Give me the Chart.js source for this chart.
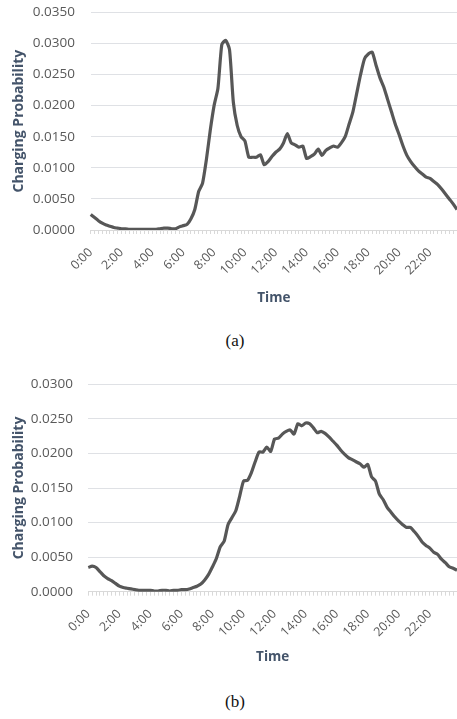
<!DOCTYPE html>
<html>
<head>
<meta charset="utf-8">
<script src="https://cdn.jsdelivr.net/npm/chart.js@4.4.0/dist/chart.umd.min.js"></script>
<style>
  html, body { margin: 0; padding: 0; background: #ffffff; }
  body { width: 457px; height: 719px; position: relative; overflow: hidden; }
  .wrap { position: absolute; left: 0; width: 457px; }
  .cap { position: absolute; left: 0; width: 470px; text-align: center; font-family: "Liberation Serif", "DejaVu Serif", serif; font-size: 17px; color: #111; }
</style>
</head>
<body>
<div class="wrap" style="top:0px;height:310px"><canvas id="c1" width="457" height="310"></canvas></div>
<div class="cap" style="top:331px">(a)</div>
<div class="wrap" style="top:360px;height:310px"><canvas id="c2" width="457" height="310"></canvas></div>
<div class="cap" style="top:692px">(b)</div>
<script>
// 96 quarter-hour time slots
const timeLabels = [];
for (let h = 0; h < 24; h++) {
  for (const m of ['00', '15', '30', '45']) timeLabels.push(h + ':' + m);
}
const shownTickLabels = ['0:00','2:00','4:00','6:00','8:00','10:00','12:00','14:00','16:00','18:00','20:00','22:00'];

const probA = [
  0.0025,0.0020,0.0015,0.0011,0.0008,0.0006,0.0004,0.0003,
  0.0002,0.0002,0.0001,0.0001,0.0001,0.0001,0.0001,0.0001,
  0.0001,0.0001,0.0002,0.0003,0.0003,0.0002,0.0002,0.0005,
  0.0007,0.0009,0.0018,0.0033,0.0062,0.0075,0.0113,0.0160,
  0.0200,0.0228,0.0298,0.0305,0.0290,0.0205,0.0168,0.0150,
  0.0143,0.0117,0.0117,0.0117,0.0121,0.0105,0.0110,0.0118,
  0.0125,0.0130,0.0140,0.0155,0.0140,0.0137,0.0133,0.0135,
  0.0115,0.0118,0.0122,0.0130,0.0120,0.0128,0.0132,0.0135,
  0.0133,0.0140,0.0150,0.0170,0.0190,0.0220,0.0250,0.0275,
  0.0283,0.0286,0.0265,0.0245,0.0230,0.0210,0.0190,0.0170,
  0.0153,0.0135,0.0120,0.0110,0.0102,0.0095,0.0090,0.0085,
  0.0083,0.0078,0.0073,0.0066,0.0058,0.0050,0.0042,0.0033
];

const probB = [
  0.0035,0.0037,0.0035,0.0029,0.0023,0.0019,0.0016,0.0012,
  0.0008,0.0006,0.0005,0.0004,0.0003,0.0002,0.0002,0.0002,
  0.0002,0.0001,0.0001,0.0002,0.0002,0.0001,0.0002,0.0002,
  0.0003,0.0003,0.0004,0.0006,0.0008,0.0011,0.0017,0.0025,
  0.0036,0.0048,0.0065,0.0073,0.0097,0.0107,0.0117,0.0138,
  0.0160,0.0161,0.0172,0.0188,0.0202,0.0202,0.0209,0.0203,
  0.0221,0.0222,0.0228,0.0232,0.0234,0.0228,0.0243,0.0240,
  0.0244,0.0243,0.0237,0.0230,0.0232,0.0229,0.0224,0.0218,
  0.0212,0.0205,0.0199,0.0194,0.0191,0.0188,0.0185,0.0180,
  0.0184,0.0166,0.0160,0.0141,0.0133,0.0122,0.0115,0.0108,
  0.0102,0.0097,0.0093,0.0093,0.0087,0.0080,0.0072,0.0067,
  0.0063,0.0057,0.0054,0.0047,0.0042,0.0036,0.0034,0.0031
];

const yMaxA = 0.035;
const yMaxB = 0.030;
const yStep = 0.005;

const FONT = '"Open Sans", "Noto Sans", sans-serif';
const tickColor = '#595959';
const titleColor = '#44546a';

// geometry: { top, yWidth, xHeight, yPad, tBottom }
function makeChart(id, data, yMax, g) {
  return new Chart(document.getElementById(id), {
    type: 'line',
    data: {
      labels: timeLabels,
      datasets: [{
        data: data,
        borderColor: '#575757',
        borderWidth: 3.2,
        pointRadius: 0,
        tension: 0.2,
        fill: false
      }]
    },
    options: {
      responsive: false,
      animation: false,
      devicePixelRatio: 1,
      layout: { padding: { left: 0, right: 0, top: g.top, bottom: 0 } },
      plugins: { legend: { display: false }, tooltip: { enabled: false } },
      scales: {
        x: {
          type: 'category',
          offset: false,
          afterFit: s => { s.paddingRight = 0; s.paddingLeft = 0; s.height = g.xHeight; },
          grid: { drawOnChartArea: false, drawTicks: true, tickLength: 4, color: '#d9d9d9' },
          border: { display: true, color: '#d9d9d9' },
          ticks: {
            autoSkip: false,
            maxRotation: 45,
            minRotation: 45,
            padding: 11,
            color: tickColor,
            font: { family: FONT, size: 12.5 },
            callback: function(v, i) {
              const l = timeLabels[i];
              return shownTickLabels.includes(l) ? l : '';
            }
          },
          title: { display: true, text: 'Time', color: titleColor, font: { family: FONT, size: 13.5, weight: 'bold' }, padding: { top: 0, bottom: g.tBottom } }
        },
        y: {
          min: 0,
          max: yMax,
          afterFit: s => { s.paddingTop = 0; s.paddingBottom = 0; s.width = g.yWidth; },
          grid: { color: '#dfe1e5', lineWidth: 1, drawTicks: false },
          border: { display: false },
          ticks: {
            stepSize: yStep,
            padding: g.yPad,
            color: tickColor,
            font: { family: FONT, size: 13.5 },
            callback: v => Number(v).toFixed(4)
          },
          title: { display: true, text: 'Charging Probability', color: titleColor, font: { family: FONT, size: 14, weight: 'bold' }, padding: { top: 10.5, bottom: 0 } }
        }
      }
    }
  });
}

makeChart('c1', probA, yMaxA, { top: 12.3, yWidth: 90.7, xHeight: 80, yPad: 15.7, tBottom: 4 });
makeChart('c2', probB, yMaxB, { top: 24.3, yWidth: 88.3, xHeight: 78.3, yPad: 15.3, tBottom: 5 });
</script>
</body>
</html>
